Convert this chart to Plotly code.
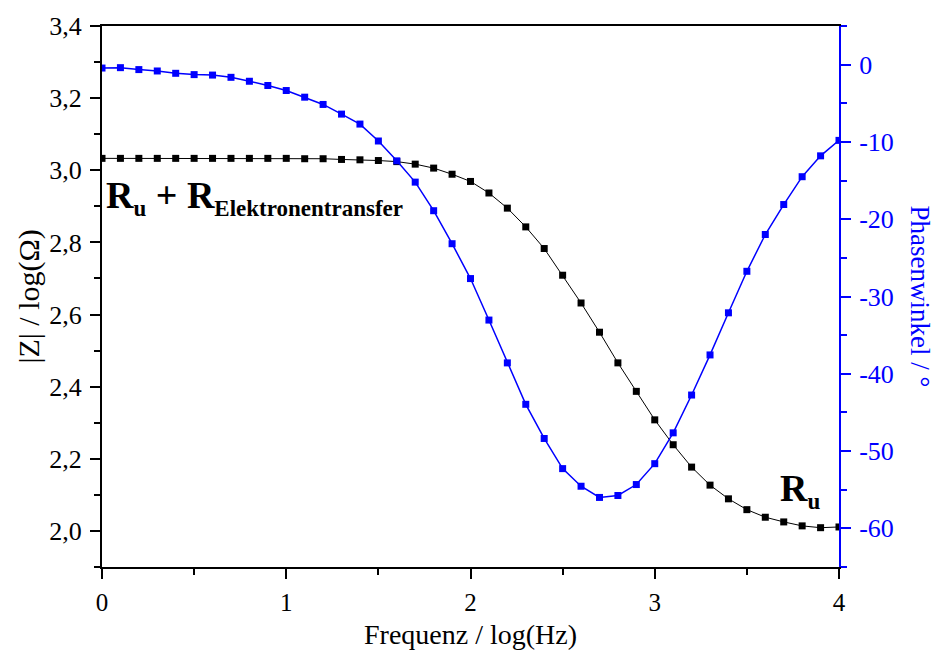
import plotly.graph_objects as go

freq = [round(i * 0.1, 1) for i in range(41)]
impedance = [3.033, 3.033, 3.033, 3.033, 3.033, 3.033, 3.033, 3.033, 3.033, 3.033,
             3.033, 3.032, 3.032, 3.030, 3.029, 3.027, 3.024, 3.017, 3.006, 2.989,
             2.969, 2.937, 2.895, 2.843, 2.783, 2.709, 2.632, 2.551, 2.466, 2.387,
             2.308, 2.239, 2.177, 2.127, 2.089, 2.059, 2.038, 2.025, 2.014, 2.009,
             2.011]
phase = [-0.44, -0.39, -0.64, -0.82, -1.12, -1.29, -1.35, -1.64, -2.15, -2.70,
         -3.35, -4.21, -5.15, -6.40, -7.69, -9.88, -12.45, -15.2, -18.9, -23.17,
         -27.68, -33.05, -38.59, -43.95, -48.37, -52.27, -54.55, -56.0, -55.75, -54.33,
         -51.63, -47.64, -42.75, -37.56, -32.11, -26.74, -21.98, -18.1, -14.5, -11.8,
         -9.8]

x_ticks = [0, 1, 2, 3, 4]
y_ticks = [2.0, 2.2, 2.4, 2.6, 2.8, 3.0, 3.2, 3.4]
phase_ticks = [0, -10, -20, -30, -40, -50, -60]
phase_ticktext = ["0", "-10", "-20", "-30", "-40", "-50", "-60"]

FONT = "Liberation Serif, Times New Roman, serif"
BLUE = "#0000ff"

fig = go.Figure()
fig.add_trace(go.Scatter(
    x=freq, y=impedance, mode="lines+markers",
    line=dict(color="black", width=1),
    marker=dict(symbol="square", size=7, color="black"),
    showlegend=False, yaxis="y"))
fig.add_trace(go.Scatter(
    x=freq, y=phase, mode="lines+markers",
    line=dict(color=BLUE, width=1.5),
    marker=dict(symbol="square", size=7, color=BLUE),
    showlegend=False, yaxis="y2"))

fig.update_layout(
    width=939, height=655,
    margin=dict(l=102, r=100, t=24, b=88),
    paper_bgcolor="white", plot_bgcolor="white",
    separators=",.",
    font=dict(family=FONT, size=26, color="black"),
    xaxis=dict(
        range=[0, 4], tickvals=x_ticks, showgrid=False, zeroline=False,
        showline=True, linecolor="black", linewidth=2, mirror=True,
        ticks="outside", ticklen=10, tickwidth=2, tickcolor="black",
        minor=dict(dtick=0.5, ticks="outside", ticklen=6, tickwidth=2, tickcolor="black"),
        tickfont=dict(size=25, family=FONT), ticklabelstandoff=2,
    ),
    yaxis=dict(
        range=[1.9, 3.4], tickvals=y_ticks, tickformat=".1f",
        showgrid=False, zeroline=False,
        showline=True, linecolor="black", linewidth=2,
        ticks="outside", ticklen=10, tickwidth=2, tickcolor="black",
        minor=dict(dtick=0.1, tick0=1.9, ticks="outside", ticklen=6, tickwidth=2, tickcolor="black"),
        tickfont=dict(size=26, family=FONT), ticklabelstandoff=3,
    ),
    yaxis2=dict(
        range=[-65, 5], overlaying="y", side="right",
        tickvals=phase_ticks, ticktext=phase_ticktext,
        showgrid=False, zeroline=False,
        showline=True, linecolor=BLUE, linewidth=2,
        ticks="outside", ticklen=10, tickwidth=2, tickcolor=BLUE,
        minor=dict(dtick=5, tick0=-65, ticks="outside", ticklen=6, tickwidth=2, tickcolor=BLUE),
        tickfont=dict(size=26, color=BLUE, family=FONT), ticklabelstandoff=3,
    ),
    annotations=[
        dict(text="Frequenz / log(Hz)", xref="paper", yref="paper",
             x=0.5, y=-0.125, xanchor="center", yanchor="middle", showarrow=False,
             font=dict(size=28, color="black", family=FONT)),
        dict(text="|Z| / log(Ω)", textangle=-90, xref="paper", yref="paper",
             x=-0.1004, y=0.5, xanchor="center", yanchor="middle", showarrow=False,
             font=dict(size=30, color="black", family=FONT)),
        dict(text="Phasenwinkel / °", textangle=90, xref="paper", yref="paper",
             x=1.11, y=0.5, xanchor="center", yanchor="middle", showarrow=False,
             font=dict(size=27, color=BLUE, family=FONT)),
        dict(text="<b>R<sub><span style='font-size:23px'>u</span></sub> + R<sub><span style='font-size:23px'>Elektronentransfer</span></sub></b>",
             xref="paper", yref="paper", x=0.003, y=0.683, xanchor="left", yanchor="middle",
             showarrow=False, font=dict(size=38, color="black", family=FONT)),
        dict(text="<b>R<sub><span style='font-size:23px'>u</span></sub></b>",
             xref="paper", yref="paper", x=0.9465, y=0.141, xanchor="center", yanchor="middle",
             showarrow=False, font=dict(size=38, color="black", family=FONT)),
    ],
)

fig.write_html("out.html")
